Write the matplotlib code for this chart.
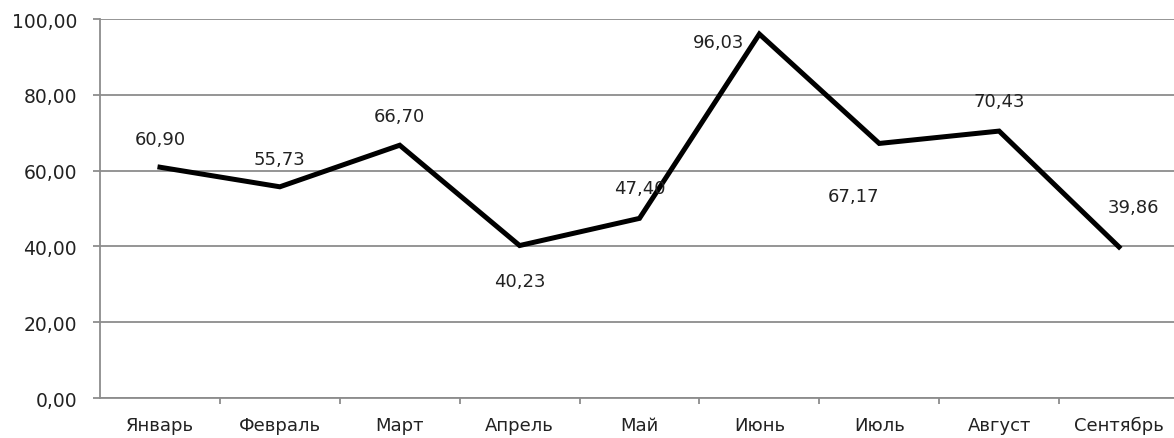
import matplotlib
matplotlib.use('Agg')
import matplotlib.pyplot as plt
from matplotlib.ticker import FixedLocator

# Data
months = ['Январь', 'Февраль', 'Март', 'Апрель', 'Май', 'Июнь', 'Июль', 'Август', 'Сентябрь']
values = [60.90, 55.73, 66.70, 40.23, 47.40, 96.03, 67.17, 70.43, 39.86]
y_ticks = [0, 20, 40, 60, 80, 100]

# label offsets in pixels (dx, dy) from each point
label_offsets = [(0, 28), (0, 28), (0, 29), (0, -35), (0, 30),
                 (-41, -8), (-26, -53), (0, 30), (14, 40)]

grey = '#8c8c8c'

fig = plt.figure(figsize=(11.74, 4.39), dpi=100)
ax = fig.add_axes([0.0852, 0.0911, 0.919, 0.8633])

x = list(range(len(months)))
ax.plot(x, values, color='black', linewidth=3.6, solid_joinstyle='miter', zorder=3)

for xi, v, (dx, dy) in zip(x, values, label_offsets):
    ax.annotate(f'{v:.2f}'.replace('.', ','), (xi, v), xytext=(dx, dy),
                textcoords='offset pixels', ha='center', va='center',
                fontsize=13, color='#222222', zorder=4)

ax.set_xlim(-0.5, len(months) - 0.5)
ax.set_ylim(0, 100)
ax.set_yticks(y_ticks)
ax.set_yticklabels([f'{t:.2f}'.replace('.', ',') for t in y_ticks])
ax.yaxis.grid(True, color=grey, linewidth=1.3)
ax.set_axisbelow(True)

# category labels centered, tick marks on boundaries
ax.set_xticks(x)
ax.set_xticklabels(months)
ax.tick_params(axis='x', which='major', length=0, pad=13, labelsize=13, labelcolor='#222222')
ax.xaxis.set_minor_locator(FixedLocator([i + 0.5 for i in range(len(months) - 1)]))
ax.tick_params(axis='x', which='minor', length=4.5, width=1.3, color=grey, direction='out')
ax.tick_params(axis='y', length=5, width=1.3, color=grey, pad=11.5, labelsize=13.5,
               labelcolor='#222222')

for s in ['top', 'right']:
    ax.spines[s].set_visible(False)
for s in ['left', 'bottom']:
    ax.spines[s].set_color(grey)
    ax.spines[s].set_linewidth(1.3)

fig.savefig('out.png', dpi=100)
